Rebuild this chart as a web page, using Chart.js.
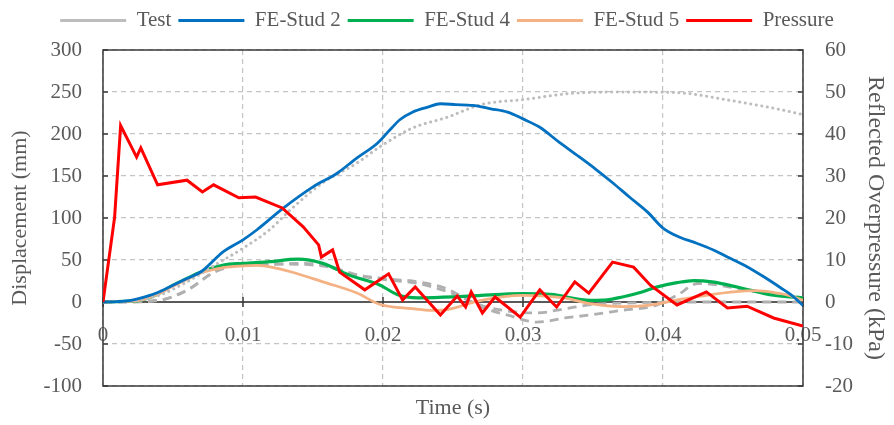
<!DOCTYPE html>
<html>
<head>
<meta charset="utf-8">
<script src="https://cdn.jsdelivr.net/npm/chart.js@4.4.1/dist/chart.umd.min.js"></script>
<style>
  html, body { margin: 0; padding: 0; background: #fff; }
  #wrap { width: 894px; height: 425px; }
</style>
</head>
<body>
<div id="wrap"><canvas id="chart"></canvas></div>
<script>
// Test (dotted, mm)
const testTime = [0, 0.002, 0.004, 0.006, 0.008, 0.01, 0.0119, 0.0134, 0.0157, 0.0181, 0.0198, 0.0221, 0.0246, 0.027, 0.03, 0.034, 0.0376, 0.0412, 0.0448, 0.0484, 0.05];
const testDisp = [0, 1, 8, 24, 44, 64, 86, 110, 142, 165, 185, 207, 220, 235, 241, 249, 250, 249, 240, 229, 223];

// FE-Stud 2 (mm)
const stud2Time = [0, 0.001, 0.002, 0.003, 0.004, 0.005, 0.006, 0.007, 0.0086, 0.01, 0.011, 0.0129, 0.015, 0.0167, 0.0181, 0.0196, 0.0205, 0.0212, 0.0221, 0.0232, 0.0241, 0.0252, 0.0264, 0.0277, 0.0289, 0.03, 0.0312, 0.0326, 0.034, 0.0352, 0.0364, 0.0376, 0.0389, 0.04, 0.0412, 0.0424, 0.0436, 0.0448, 0.046, 0.0472, 0.0484, 0.0492, 0.05];
const stud2Disp = [0, 0.5, 2, 6, 12, 20, 28, 36, 60, 74, 86, 112, 137, 153, 171, 189, 205, 217, 226, 232, 236, 235, 234, 230, 226, 218, 208, 190, 173, 158, 142, 125, 107, 88, 77, 70, 62, 52, 42, 30, 17, 8, -4];

// FE-Stud 4 (mm)
const stud4Time = [0, 0.001, 0.0026, 0.004, 0.005, 0.006, 0.0069, 0.0086, 0.01, 0.0119, 0.0139, 0.0157, 0.0176, 0.0198, 0.021, 0.0225, 0.025, 0.027, 0.03, 0.032, 0.0348, 0.036, 0.0371, 0.0385, 0.0396, 0.041, 0.0422, 0.0435, 0.0455, 0.0479, 0.05];
const stud4Disp = [0, 0.5, 2, 10, 20, 28, 35, 44, 46, 48, 51, 46, 32, 20, 9, 5, 6, 8, 10, 9, 2, 2.5, 6, 12, 18, 23, 25.5, 24, 17, 8, 5];

// FE-Stud 5 (mm)
const stud5Time = [0, 0.001, 0.0026, 0.004, 0.005, 0.006, 0.0069, 0.0086, 0.01, 0.011, 0.0122, 0.0134, 0.0157, 0.0181, 0.0198, 0.0221, 0.0235, 0.0246, 0.027, 0.03, 0.0329, 0.0348, 0.0371, 0.0389, 0.04, 0.0412, 0.0431, 0.045, 0.0467, 0.048, 0.049, 0.05];
const stud5Disp = [0, 0.5, 2, 10, 19, 27, 34, 41, 43, 43.5, 41, 36, 24, 11, -3, -8, -10, -9, 2, 8, 5, -2, -5.5, -4, -1, 3, 8, 12, 13.5, 11, 8, 2];

// Test curves without legend entry (dashed, mm)
const testATime = [0, 0.002, 0.004, 0.006, 0.008, 0.0095, 0.011, 0.014, 0.016, 0.018, 0.02, 0.0225, 0.0245, 0.027, 0.029, 0.031, 0.033, 0.035, 0.037, 0.0395, 0.041, 0.0425, 0.044, 0.046, 0.048, 0.05];
const testADisp = [0, 0, 2, 14, 36, 44, 44, 46, 43, 33, 28, 24, 16, -6, -16, -24, -19, -15, -10, -4, 8, 22, 20, 14, 9, 5];
const testBTime = [0, 0.004, 0.006, 0.008, 0.01, 0.013, 0.016, 0.018, 0.02, 0.0225, 0.025, 0.027, 0.029, 0.031, 0.033, 0.035, 0.038, 0.042, 0.05];
const testBDisp = [0, 2, 14, 36, 44, 45, 42, 32, 27, 22, 10, -4, -11, -13, -8, -3, -1, 0, 0];

// Pressure (kPa)
const pressTime = [0, 0.00083, 0.00126, 0.0024, 0.0027, 0.0039, 0.006, 0.0071, 0.0079, 0.0097, 0.0109, 0.0128, 0.0143, 0.0154, 0.0156, 0.0164, 0.0169, 0.0187, 0.0204, 0.0214, 0.0223, 0.0241, 0.0253, 0.0259, 0.0263, 0.0271, 0.028, 0.0298, 0.0312, 0.0324, 0.0337, 0.0347, 0.0364, 0.0379, 0.0391, 0.041, 0.0431, 0.0446, 0.046, 0.0479, 0.05];
const pressKpa = [0, 20.2, 42, 34.5, 36.7, 27.9, 29, 26.2, 27.9, 24.8, 25, 22.4, 17.9, 13.6, 10.7, 12.4, 7.1, 2.9, 6.7, 0.5, 3.6, -3.1, 1.4, -1.2, 2.4, -2.6, 1.2, -3.6, 2.9, -1.2, 4.8, 2.1, 9.5, 8.3, 4.0, -0.7, 2.4, -1.4, -1.0, -3.8, -5.7];

const legendNames = ['Test', 'FE-Stud 2', 'FE-Stud 4', 'FE-Stud 5', 'Pressure'];

function pts(xs, ys) {
    return xs.map((x, i) => ({ x: x, y: ys[i] }));
}

const serif = 'Liberation Serif';
const textGray = '#595959';

// frame round the plot, small inner tick marks, extra gap under the legend
const framePlugin = {
    id: 'frame',
    beforeLayout(chart) {
        const lg = chart.legend;
        if (lg && !lg._extraGap) {
            const fit = lg.fit;
            lg.fit = function () {
                fit.call(this);
                this.height += 9;
            };
            lg._extraGap = true;
        }
    },
    beforeDatasetsDraw(chart) {
        const a = chart.chartArea;
        const ctx = chart.ctx;
        const y = chart.scales.y, y1 = chart.scales.y1, x = chart.scales.x;
        ctx.save();
        ctx.strokeStyle = '#3a3a3a';
        ctx.lineWidth = 1.5;
        ctx.strokeRect(a.left, a.top, a.right - a.left, a.bottom - a.top);
        ctx.beginPath();
        y.ticks.forEach(t => {
            const py = y.getPixelForValue(t.value);
            ctx.moveTo(a.left, py); ctx.lineTo(a.left + 5, py);
        });
        y1.ticks.forEach(t => {
            const py = y1.getPixelForValue(t.value);
            ctx.moveTo(a.right, py); ctx.lineTo(a.right - 5, py);
        });
        const y0 = y.getPixelForValue(0);
        x.ticks.forEach(t => {
            const px = x.getPixelForValue(t.value);
            ctx.moveTo(px, y0 - 5); ctx.lineTo(px, y0 + 5);
        });
        ctx.stroke();
        ctx.restore();
    }
};

function line(label, data, color, width, opts) {
    return Object.assign({
        label: label,
        data: data,
        borderColor: color,
        backgroundColor: color,
        borderWidth: width,
        pointRadius: 0,
        pointHoverRadius: 0,
        pointStyle: 'line',
        fill: false,
        cubicInterpolationMode: 'monotone',
        yAxisID: 'y'
    }, opts || {});
}

new Chart(document.getElementById('chart'), {
    type: 'line',
    data: {
        datasets: [
            line(legendNames[0], pts(testTime, testDisp), '#bdbdbd', 3, { borderDash: [0.1, 5.5], borderCapStyle: 'round', order: 2 }),
            line(legendNames[1], pts(stud2Time, stud2Disp), '#0070c0', 2.8, { order: 1 }),
            line(legendNames[2], pts(stud4Time, stud4Disp), '#00b050', 3.2, { order: 4 }),
            line(legendNames[3], pts(stud5Time, stud5Disp), '#f4b183', 2.8, { order: 3 }),
            line(legendNames[4], pts(pressTime, pressKpa), '#ff0000', 3, { yAxisID: 'y1', cubicInterpolationMode: 'default', tension: 0, order: 0 }),
            line('Test A', pts(testATime, testADisp), '#b0b0b0', 2.8, { borderDash: [9, 6], order: 5 }),
            line('Test B', pts(testBTime, testBDisp), '#b0b0b0', 2.8, { borderDash: [9, 6], order: 6 })
        ]
    },
    options: {
        responsive: true,
        maintainAspectRatio: false,
        animation: false,
        layout: { padding: { top: 3, left: 0, right: 0, bottom: 0 } },
        plugins: {
            tooltip: { enabled: false },
            legend: {
                position: 'top',
                labels: {
                    usePointStyle: true,
                    pointStyleWidth: 66,
                    padding: 7,
                    color: textGray,
                    font: { family: serif, size: 21 },
                    filter: item => legendNames.includes(item.text),
                    sort: (a, b) => a.datasetIndex - b.datasetIndex
                }
            }
        },
        scales: {
            x: {
                type: 'linear',
                position: { y: 0 },
                min: 0,
                max: 0.05,
                afterFit: s => { s.height = 0; },
                ticks: {
                    stepSize: 0.01,
                    padding: 21,
                    color: textGray,
                    font: { family: serif, size: 21 },
                    maxRotation: 0,
                    callback: v => +v.toFixed(2)
                },
                grid: { color: '#c4c4c4', lineWidth: 1.2, drawTicks: false },
                border: { display: true, color: '#595959', width: 2, dash: [5, 4] }
            },
            x2: {
                type: 'linear',
                axis: 'x',
                position: 'bottom',
                min: 0,
                max: 0.05,
                afterFit: s => { s.height = 39; },
                ticks: { display: false },
                grid: { display: false, drawTicks: false },
                border: { display: false },
                title: {
                    display: true,
                    text: 'Time (s)',
                    color: textGray,
                    font: { family: serif, size: 22 },
                    padding: { top: 4, bottom: 4 }
                }
            },
            y: {
                position: 'left',
                min: -100,
                max: 300,
                afterFit: s => { s.width = 103; },
                ticks: {
                    stepSize: 50,
                    padding: 21,
                    color: textGray,
                    font: { family: serif, size: 21 }
                },
                grid: { color: '#c4c4c4', lineWidth: 1.2, drawTicks: false },
                border: { display: false, dash: [5, 4] },
                title: {
                    display: true,
                    text: 'Displacement (mm)',
                    color: textGray,
                    font: { family: serif, size: 22 },
                    padding: { top: 7, bottom: 0 }
                }
            },
            y1: {
                position: 'right',
                min: -20,
                max: 60,
                afterFit: s => { s.width = 91; },
                ticks: {
                    stepSize: 10,
                    padding: 22,
                    color: textGray,
                    font: { family: serif, size: 21 }
                },
                grid: { drawOnChartArea: false, drawTicks: false },
                border: { display: false },
                title: {
                    display: true,
                    text: 'Reflected Overpressure (kPa)',
                    color: textGray,
                    font: { family: serif, size: 24 },
                    padding: { top: 4, bottom: 0 }
                }
            }
        }
    },
    plugins: [framePlugin]
});
</script>
</body>
</html>
